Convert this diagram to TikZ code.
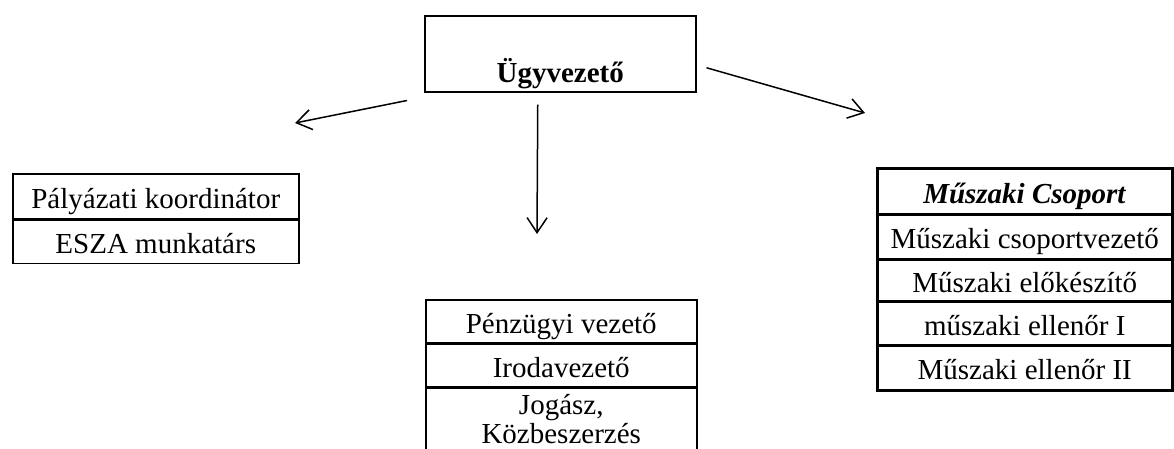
\documentclass[tikz,border=0pt]{standalone}
\usepackage{fontspec}
\setmainfont{Liberation Serif}
\usetikzlibrary{arrows.meta,calc}
\begin{document}
\begin{tikzpicture}[x=1pt,y=-1pt,
  every node/.style={font=\fontsize{29}{33}\selectfont},
  row/.style={draw, line width=1.5pt, rectangle, inner sep=0pt, anchor=north west,
    text height=25pt, text depth=1pt},
  lrow/.style={row, minimum width=286pt},
  mrow/.style={row, minimum width=271pt},
  rrow/.style={row, minimum width=294pt},
  txt/.style={anchor=base, inner sep=0pt},
  conn/.style={line width=1.5pt, -{Straight Barb[length=15pt,width=20pt,line width=1.5pt]}}
]
\fill[white] (0,0) rectangle (1174,448);
\useasboundingbox (0,0) rectangle (1174,448);
\clip (0,0) rectangle (1174,448);

% top box
\node[row, minimum width=271pt, minimum height=76pt, text height=66pt, text depth=8pt,
  font=\fontsize{29}{33}\selectfont\bfseries] (u) at (424,15) {Ügyvezető};

% left box
\node[lrow, minimum height=45pt] (l1) at (12,173) {Pályázati koordinátor};
\node[lrow, minimum height=43pt] (l2) at (l1.south west) {ESZA munkatárs};

% middle box
\node[mrow, minimum height=43pt] (m1) at (425,299) {Pénzügyi vezető};
\node[mrow, minimum height=42pt] (m2) at (m1.south west) {Irodavezető};
\node[mrow, minimum height=90pt] (m3) at (m2.south west) {};
\node[txt] (m3a) at ($(m3.north)+(0,27)$) {Jogász,};
\node[txt] (m3b) at ($(m3a.base)+(0,29)$) {Közbeszerzés};

% right box
\node[rrow, minimum height=45pt] (r1) at (877,168) {\textbf{\textit{Műszaki Csoport}}};
\node[rrow, minimum height=43pt] (r2) at (r1.south west) {Műszaki csoportvezető};
\node[rrow, minimum height=41pt] (r3) at (r2.south west) {Műszaki előkészítő};
\node[rrow, minimum height=42pt] (r4) at (r3.south west) {műszaki ellenőr I};
\node[rrow, minimum height=44pt] (r5) at (r4.south west) {Műszaki ellenőr II};
\draw[line width=2.4pt] (r1.north west) rectangle (r5.south east);

% connectors
\coordinate (eL) at (295,123);
\coordinate (eR) at (865,113);
\coordinate (eD) at (537,234);
\draw[conn] ($(u.south west)+(-17,8)$) -- (eL);
\draw[conn] ($(u.east)+(10,14)$) -- (eR);
\draw[conn] ($(u.south)+(-22.5,12)$) -- (eD);
\end{tikzpicture}
\end{document}
